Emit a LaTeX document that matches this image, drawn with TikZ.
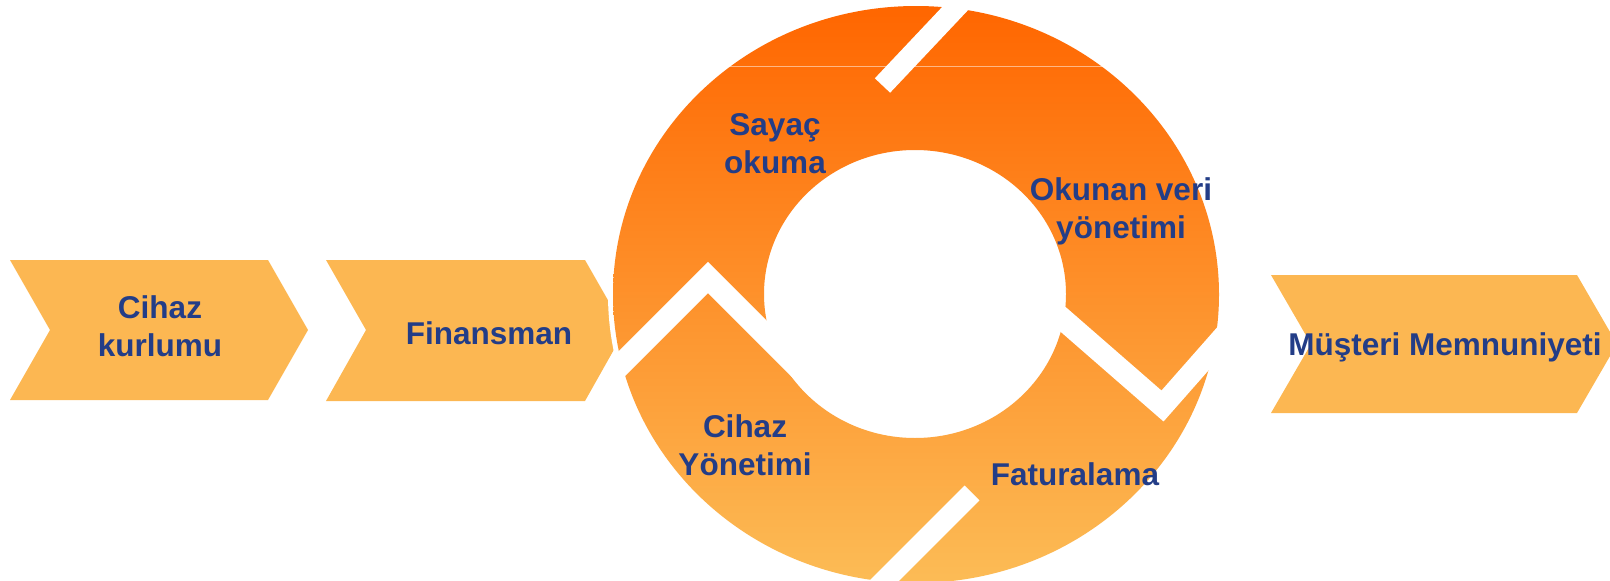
\documentclass[tikz,border=0pt]{standalone}
\usepackage{fontspec}
\setmainfont{Liberation Sans}
\definecolor{chev}{RGB}{252,183,82}
\definecolor{txt}{RGB}{35,61,135}
\definecolor{ringtop}{RGB}{255,102,0}
\definecolor{ringmid}{RGB}{253,148,56}
\definecolor{ringbot}{RGB}{252,188,86}
\begin{document}
\begin{tikzpicture}[x=1pt,y=-1pt,
  chevshape/.style={fill=chev},
  lbl/.style={text=txt, font=\fontsize{31.5}{38.5}\selectfont\bfseries, align=center, inner sep=0pt, anchor=north},
  gapband/.style={white, line width=22pt, line join=miter},
  cutband/.style={white, line width=21pt}]
\useasboundingbox (0,0) rectangle (1610,581);
\clip (0,0) rectangle (1610,581);
% chevrons
\fill[chevshape] (10,260) -- (268,260) -- (308,330) -- (268,400) -- (10,400) -- (50,330) -- cycle;
\fill[chevshape] (326,260) -- (585,260) -- (625,330) -- (585,401) -- (326,401) -- (366,330) -- cycle;
\fill[chevshape] (1271,275) -- (1577,275) -- (1617,344) -- (1577,413) -- (1271,413) -- (1311,344) -- cycle;
% ring halo and ring
\fill[white] (916,294.5) ellipse [x radius=308, y radius=293.5];
\shade[top color=ringtop, middle color=ringmid, bottom color=ringbot, even odd rule]
  (916,294.5) ellipse [x radius=303, y radius=288.5]
  (915,294) ellipse [x radius=151, y radius=144];
\begin{scope}
  \clip (916,294.5) ellipse [x radius=308, y radius=293.5];
  \draw[white, opacity=0.5, line width=1pt] (600,66) -- (1230,66);
  \draw[gapband] (590,395.5) -- (708,277.5) -- (820,389.5);
  \draw[gapband] (1042,301) -- (1162.5,406) -- (1240,318);
  \draw[cutband] (882.5,85.5) -- (982.5,-20.5);
  \draw[cutband] (972,493) -- (862,603);
\end{scope}
% labels
\node[lbl] (cihazkurlumu) at (160,295) {Cihaz\\kurlumu};
\node[lbl] (finansman) at (489,321) {Finansman};
\node[lbl] (musteri) at (1445,332) {Müşteri Memnuniyeti};
\node[lbl] (sayac) at (775,113) {Sayaç\\okuma};
\node[lbl] (okunan) at (1121,177) {Okunan veri\\yönetimi};
\node[lbl] (cihazyon) at (745,414) {Cihaz\\Yönetimi};
\node[lbl] (faturalama) at (1075,462) {Faturalama};
\end{tikzpicture}
\end{document}
